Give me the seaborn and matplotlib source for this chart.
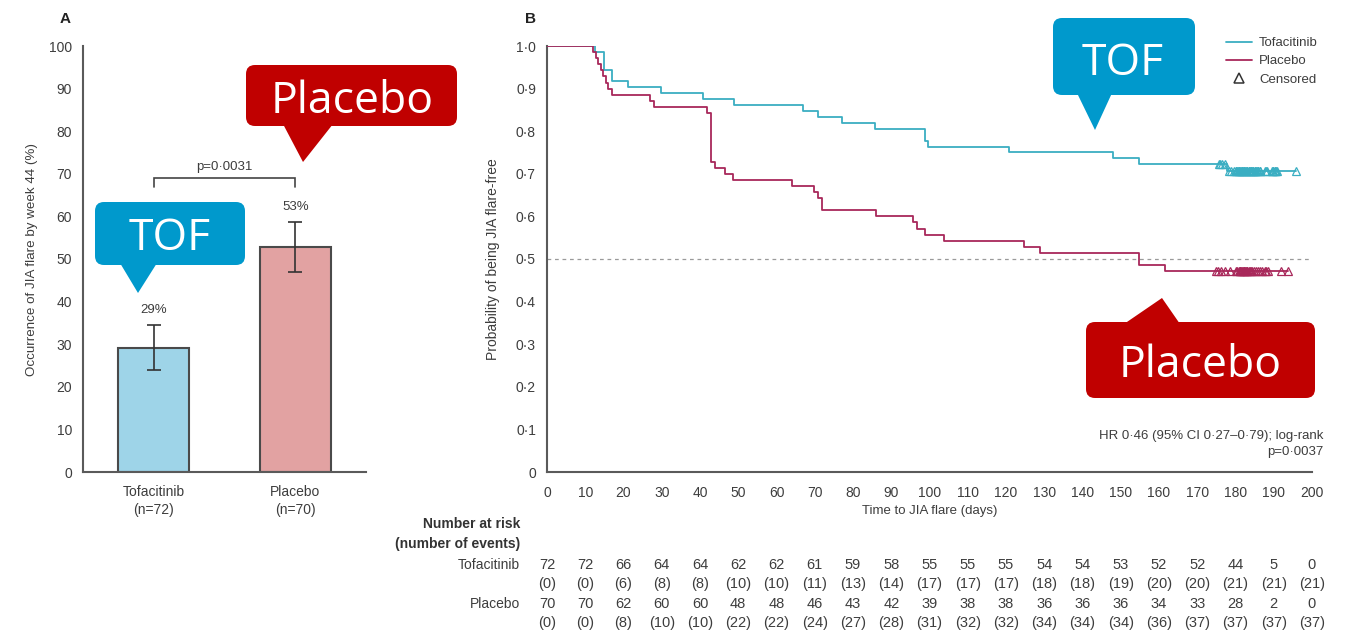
import numpy as np
import pandas as pd
import matplotlib
matplotlib.use("Agg")
import matplotlib.pyplot as plt
import seaborn as sns
from matplotlib.patches import FancyBboxPatch, Polygon
from matplotlib.lines import Line2D
from matplotlib import transforms

# ---------------- Panel A: occurrence of flare by week 44 ----------------
groups = ["Tofacitinib", "Placebo"]
group_n = [72, 70]
flare_pct = [29.2, 52.9]
ci_low = [23.9, 46.9]
ci_high = [34.5, 58.6]
p_bar = "p=0·0031"
bar_colors = ["#9ed4e8", "#e2a2a2"]
pct_ticks = [0, 10, 20, 30, 40, 50, 60, 70, 80, 90, 100]

# ---------------- Panel B: Kaplan-Meier, time to JIA flare ----------------
arms = ["Tofacitinib", "Placebo"]
arm_colors = ["#3aaec2", "#a8285a"]

tof_events = [12.5, 14.9, 14.9, 14.9, 17.1, 17.1, 21.1, 29.9, 40.9, 49.0,
              67.0, 70.9, 77.0, 85.8, 98.8, 98.8, 99.7, 120.8, 147.9, 154.8,
              177.7]
tof_censored = [175.6, 176.0, 176.5, 177.2, 178.2, 178.8, 179.5,
                180.0, 180.2, 180.3, 180.6, 180.8, 181.0, 181.1, 181.4, 181.6,
                181.7, 181.9, 182.2, 182.3, 182.5, 182.8, 182.9, 183.1, 183.4,
                183.5, 183.8, 184.0, 184.1, 184.4, 184.6, 184.7, 185.0, 185.2,
                185.3, 185.6, 185.9, 186.0, 186.3, 186.5, 187.8, 188.0, 188.2,
                189.5, 189.7, 189.9,
                190.2, 190.4, 190.6, 190.8, 195.7]

pbo_events = [11.9, 12.8, 13.4, 14.1, 14.7, 15.4, 16.0, 16.9, 26.9, 28.0,
              41.9, 43.0, 43.0, 43.0, 43.0, 43.0, 43.0, 43.0, 43.0, 43.9,
              46.5, 48.7, 64.0, 69.8, 70.9, 71.8, 71.8, 86.0, 95.8, 96.7,
              98.8, 103.9, 124.8, 128.9, 154.8, 154.8, 161.6]
pbo_censored = [175.0, 175.4, 176.2, 177.3, 178.5,
                180.0, 180.4, 180.8, 181.1, 181.3, 181.5, 181.7, 181.9, 182.1,
                182.3, 182.5, 182.7, 182.9, 183.1, 183.4, 183.7, 184.0, 184.4,
                184.8, 185.3, 185.8, 186.3, 187.0, 187.6, 188.0, 188.5,
                191.8, 193.6]

day_ticks = [0, 10, 20, 30, 40, 50, 60, 70, 80, 90, 100,
             110, 120, 130, 140, 150, 160, 170, 180, 190, 200]
prob_ticks = [0, 0.1, 0.2, 0.3, 0.4, 0.5, 0.6, 0.7, 0.8, 0.9, 1.0]

tof_at_risk = [72, 72, 66, 64, 64, 62, 62, 61, 59, 58, 55, 55, 55, 54, 54,
               53, 52, 52, 44, 5, 0]
tof_cum_events = [0, 0, 6, 8, 8, 10, 10, 11, 13, 14, 17, 17, 17, 18, 18,
                  19, 20, 20, 21, 21, 21]
pbo_at_risk = [70, 70, 62, 60, 60, 48, 48, 46, 43, 42, 39, 38, 38, 36, 36,
               36, 34, 33, 28, 2, 0]
pbo_cum_events = [0, 0, 8, 10, 10, 22, 22, 24, 27, 28, 31, 32, 32, 34, 34,
                  34, 36, 37, 37, 37, 37]

hr_text = "HR 0·46 (95% CI 0·27–0·79); log-rank\np=0·0037"


def lancet(v, digits=1):
    """Format a number with the mid-line decimal point."""
    if v == 0:
        return "0"
    return f"{v:.{digits}f}".replace(".", "·")


def kaplan_meier(events, censored):
    ev = np.asarray(events, float)
    ce = np.asarray(censored, float)
    everyone = np.concatenate([ev, ce])
    times, surv, s = [0.0], [1.0], 1.0
    for t in np.unique(ev):
        n = np.sum(everyone >= t)
        d = np.sum(ev == t)
        s *= 1.0 - d / n
        times.append(t)
        surv.append(s)
    times.append(everyone.max())
    surv.append(s)
    return np.array(times), np.array(surv)


def surv_at(times, surv, t):
    idx = np.searchsorted(times, t, side="right") - 1
    return surv[idx]


# ---------------- style ----------------
sns.set_style("white")
ink = "#3d3d3d"
spine_col = "#5a5a5a"
plt.rcParams["font.family"] = ["Liberation Sans", "DejaVu Sans"]
plt.rcParams["text.color"] = ink
plt.rcParams["axes.labelcolor"] = ink
plt.rcParams["xtick.color"] = spine_col
plt.rcParams["ytick.color"] = spine_col
plt.rcParams["xtick.labelcolor"] = ink
plt.rcParams["ytick.labelcolor"] = ink

W, H = 1345, 641
fig = plt.figure(figsize=(W / 100, H / 100), dpi=100)
fig.patch.set_facecolor("white")

axA = fig.add_axes([83 / W, 1 - 472 / H, 283 / W, 426 / H])
axB = fig.add_axes([547 / W, 1 - 472 / H, 765 / W, 426 / H])

# ---------------- Panel A ----------------
bar_df = pd.DataFrame({"group": groups, "pct": flare_pct})
sns.barplot(data=bar_df, x="group", y="pct", hue="group", palette=bar_colors,
            saturation=1, width=0.5, edgecolor="#4a4a4a", linewidth=1.5,
            errorbar=None, legend=False, ax=axA)
pos = np.arange(len(groups))
yerr = [np.array(flare_pct) - np.array(ci_low), np.array(ci_high) - np.array(flare_pct)]
axA.errorbar(pos, flare_pct, yerr=yerr, fmt="none", ecolor="#333333",
             elinewidth=1.2, capsize=5, capthick=1.2, zorder=5)
for x, v, hi in zip(pos, flare_pct, ci_high):
    axA.text(x, hi + 2.2, f"{v:.0f}%", ha="center", va="bottom", fontsize=9.5, color=ink)

# significance bracket
br_y = 69
axA.plot([pos[0], pos[0], pos[1], pos[1]], [br_y - 2, br_y, br_y, br_y - 2],
         color="#444444", lw=1.2, solid_joinstyle="miter")
axA.text((pos[0] + pos[1]) / 2, br_y + 1.2, p_bar, ha="center", va="bottom",
         fontsize=9.5, color=ink)

axA.set_xlim(-0.5, 1.5)
axA.set_ylim(0, 100)
axA.set_yticks(pct_ticks)
axA.set_yticklabels([str(t) for t in pct_ticks])
axA.set_xticks(pos)
axA.set_xticklabels([f"{g}\n(n={n})" for g, n in zip(groups, group_n)])
for lab in axA.get_xticklabels():
    lab.set_linespacing(1.45)
axA.set_xticks([-0.5, 0.5, 1.5], minor=True)
axA.tick_params(axis="x", which="major", length=0, pad=9, labelsize=10)
axA.tick_params(axis="x", which="minor", length=6, width=1.4, direction="out")
axA.tick_params(axis="y", length=6, width=1.4, direction="out", pad=2, labelsize=10)
axA.set_xlabel("")
axA.set_ylabel("Occurrence of JIA flare by week 44 (%)", fontsize=9.6)
axA.yaxis.set_label_coords(-0.16, 0.5)
for side in ["top", "right"]:
    axA.spines[side].set_visible(False)
for side in ["left", "bottom"]:
    axA.spines[side].set_color(spine_col)
    axA.spines[side].set_linewidth(1.5)

# ---------------- Panel B ----------------
curve_frames = []
censor_pts = []
for arm, ev, ce in [(arms[0], tof_events, tof_censored), (arms[1], pbo_events, pbo_censored)]:
    t, s = kaplan_meier(ev, ce)
    curve_frames.append(pd.DataFrame({"day": t, "surv": s, "arm": arm}))
    censor_pts.append((np.array(ce), surv_at(t, s, np.array(ce))))
km_df = pd.concat(curve_frames, ignore_index=True)

sns.lineplot(data=km_df, x="day", y="surv", hue="arm", hue_order=arms,
             palette=arm_colors, estimator=None, drawstyle="steps-post",
             linewidth=1.3, legend=False, ax=axB, zorder=3)
for (ct, cs), col in zip(censor_pts, arm_colors):
    axB.plot(ct, cs, ls="none", marker="^", mfc="none", mec=col, ms=6,
             mew=0.9, zorder=4)

axB.axhline(0.5, color="#9a9a9a", lw=0.9, ls=(0, (3, 3)), zorder=1)

axB.set_xlim(0, 200)
axB.set_ylim(0, 1.0)
axB.set_xticks(day_ticks)
axB.set_xticklabels([str(d) for d in day_ticks])
axB.set_yticks(prob_ticks)
axB.set_yticklabels([lancet(p) for p in prob_ticks])
axB.tick_params(axis="x", length=6, width=1.4, direction="out", pad=4, labelsize=10)
axB.tick_params(axis="y", length=6, width=1.4, direction="out", pad=2, labelsize=10)
axB.set_xlabel("Time to JIA flare (days)", fontsize=9.5)
axB.xaxis.set_label_coords(0.5, -0.078)
axB.set_ylabel("Probability of being JIA flare-free", fontsize=10)
axB.yaxis.set_label_coords(-0.061, 0.5)
for side in ["top", "right"]:
    axB.spines[side].set_visible(False)
for side in ["left", "bottom"]:
    axB.spines[side].set_color(spine_col)
    axB.spines[side].set_linewidth(1.5)

handles = [Line2D([], [], color=arm_colors[0], lw=1.3),
           Line2D([], [], color=arm_colors[1], lw=1.3),
           Line2D([], [], ls="none", marker="^", mfc="none", mec="#333333", ms=7, mew=1.1)]
leg = axB.legend(handles, arms + ["Censored"], loc="upper left",
                 bbox_to_anchor=(1226 / W, 1 - 37 / H), bbox_transform=fig.transFigure,
                 frameon=False, fontsize=9.5, handlelength=2.0, handletextpad=0.5,
                 labelspacing=0.45, borderpad=0, borderaxespad=0, numpoints=1)
for txt in leg.get_texts():
    txt.set_color(ink)

fig.text(1323 / W, 1 - 444 / H, hr_text, ha="right", va="center", fontsize=9.5,
         color=ink, multialignment="right", linespacing=1.35)

# number at risk table under the time axis
row_y = {"head1": 524, "head2": 544, "tof_n": 565, "tof_e": 584, "pbo_n": 604, "pbo_e": 623}
tab = transforms.blended_transform_factory(axB.transData, fig.transFigure)
lab_x = 520 / W
fig.text(lab_x, 1 - row_y["head1"] / H, "Number at risk", ha="right", va="center",
         fontsize=10, weight="bold", color="#333333")
fig.text(lab_x, 1 - row_y["head2"] / H, "(number of events)", ha="right", va="center",
         fontsize=10, weight="bold", color="#333333")
fig.text(lab_x, 1 - row_y["tof_n"] / H, arms[0], ha="right", va="center", fontsize=10, color=ink)
fig.text(lab_x, 1 - row_y["pbo_n"] / H, arms[1], ha="right", va="center", fontsize=10, color=ink)
for d, tn, te, pn, pe in zip(day_ticks, tof_at_risk, tof_cum_events, pbo_at_risk, pbo_cum_events):
    for key, s in [("tof_n", str(tn)), ("tof_e", f"({te})"), ("pbo_n", str(pn)), ("pbo_e", f"({pe})")]:
        axB.text(d, 1 - row_y[key] / H, s, transform=tab, ha="center", va="center",
                 fontsize=10.5, color=ink, clip_on=False)

# panel letters
fig.text(65 / W, 1 - 19 / H, "A", ha="center", va="center", fontsize=11, weight="bold", color="#222222")
fig.text(530 / W, 1 - 19 / H, "B", ha="center", va="center", fontsize=11, weight="bold", color="#222222")

# ---------------- speech-bubble labels ----------------
ov = fig.add_axes([0, 0, 1, 1])
ov.set_xlim(0, W)
ov.set_ylim(H, 0)
ov.axis("off")
ov.set_zorder(10)

blue = "#0099cc"
red = "#c00000"


def bubble(box, tri, color, text, tx, ty):
    x0, y0, x1, y1 = box
    ov.add_patch(FancyBboxPatch((x0, y0), x1 - x0, y1 - y0,
                                boxstyle="round,pad=0,rounding_size=9",
                                fc=color, ec="none"))
    ov.add_patch(Polygon(tri, closed=True, fc=color, ec="none"))
    ov.text(tx, ty, text, color="white", fontsize=32, ha="center", va="baseline",
            family=["Open Sans", "DejaVu Sans"])


bubble((95, 202, 245, 265), [(120, 263), (157, 263), (138, 293)], blue, "TOF", 170, 250)
bubble((246, 65, 457, 126), [(283, 124), (333, 124), (303, 162)], red, "Placebo", 352, 113)
bubble((1053, 18, 1195, 95), [(1077, 93), (1112, 93), (1095, 130)], blue, "TOF", 1123, 75)
bubble((1086, 322, 1315, 398), [(1124, 324), (1180, 324), (1162, 298)], red, "Placebo", 1200, 377)

fig.savefig("out.png", dpi=100, facecolor="white")
